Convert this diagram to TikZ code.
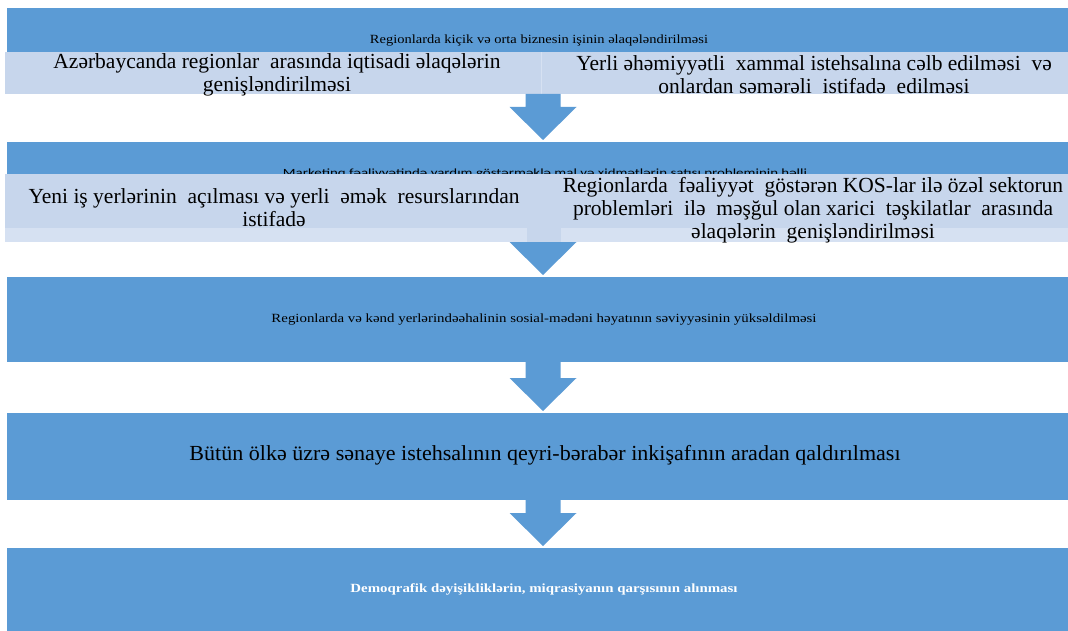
\documentclass[tikz,border=0pt]{standalone}
\usepackage{fontspec}
\setmainfont{Liberation Serif}
\newfontfamily\sansf{Carlito}
\usetikzlibrary{calc}
\definecolor{boxblue}{HTML}{5B9BD5}
\definecolor{cellblue}{HTML}{C7D6EC}
\definecolor{cellpale}{HTML}{D6E1F2}
% squeeze or stretch a line horizontally to a given width
\newcommand\fitw[2]{\resizebox{#1}{\height}{#2}}

\begin{document}
\begin{tikzpicture}[x=1pt,y=-1pt,
  bluebox/.style={fill=boxblue, inner sep=0, outer sep=0, anchor=north west, minimum width=1061pt},
  cellbox/.style={fill=cellblue, inner sep=0, outer sep=0, anchor=north west},
  palebox/.style={fill=cellpale, inner sep=0, outer sep=0, anchor=north west},
  bigtext/.style={font=\fontsize{21.5}{22.8}\selectfont, align=center, inner sep=0},
  smalltext/.style={font=\fontsize{12.5}{13}\selectfont, inner sep=0},
  blockarrow/.style={to path={let \p1=(\tikztostart), \p2=(\tikztotarget) in
     (\x2-17.5pt,\y1) -- (\x2+17.5pt,\y1) -- (\x2+17.5pt,\y2+35pt) -- (\x2+33.5pt,\y2+35pt)
     -- (\x2,\y2+2pt) -- (\x2-33.5pt,\y2+35pt) -- (\x2-17.5pt,\y2+35pt) -- cycle}}
]
\useasboundingbox[fill=white] (0,0) rectangle (1068,631);
\coordinate (ax) at (543,0);

% ---- block 1
\node[bluebox, minimum height=86pt] (b1) at (7,8) {};
\node[smalltext, anchor=base] (t1) at (539,44) {\fitw{338pt}{Regionlarda kiçik və orta biznesin işinin əlaqələndirilməsi}};
\node[palebox, minimum width=1063pt, minimum height=42pt] (band1) at (5,52) {};
\node[cellbox, minimum width=535.5pt, minimum height=42pt] (c1l) at (5,52) {};
\node[cellbox, minimum width=526pt, minimum height=42pt] (c1r) at (542,52) {};
\node[bigtext] (t1l) at (277,75) {Azərbaycanda regionlar\ \ arasında iqtisadi əlaqələrin\\genişləndirilməsi};
\node[bigtext] (t1r) at (814,75) {Yerli əhəmiyyətli\ \ xammal istehsalına cəlb edilməsi\ \ və\\onlardan səmərəli\ \ istifadə\ \ edilməsi};

% ---- block 2
\node[bluebox, minimum height=100pt] (b2) at (7,142) {};
\node[font=\sansf\fontsize{11}{12}\selectfont, inner sep=0, anchor=base] (t2) at (545,176.5)
  {\fitw{524pt}{Marketinq fəaliyyətində yardım göstərməklə mal və xidmətlərin satışı probleminin həlli}};
\node[cellbox, minimum width=1063pt, minimum height=68pt] (band2) at (5,174) {};
\node[palebox, minimum width=522pt, minimum height=14pt] (p2l) at (5,228) {};
\node[palebox, minimum width=507pt, minimum height=14pt] (p2r) at (561,228) {};
\node[bigtext] (t2l) at (274,208) {Yeni iş yerlərinin\ \ açılması və yerli\ \ əmək\ \ resurslarından\\istifadə};
\node[bigtext] (t2r) at (813,210) {Regionlarda\ \ fəaliyyət\ \ göstərən KOS-lar ilə özəl sektorun\\problemləri\ \ ilə\ \ məşğul olan xarici\ \ təşkilatlar\ \ arasında\\əlaqələrin\ \ genişləndirilməsi};

% ---- block 3
\node[bluebox, minimum height=85pt] (b3) at (7,277) {};
\node[smalltext] (t3) at (544,320) {\fitw{545pt}{Regionlarda və kənd yerlərindəəhalinin sosial-mədəni həyatının səviyyəsinin yüksəldilməsi}};

% ---- block 4
\node[bluebox, minimum height=87pt] (b4) at (7,413) {};
\node[bigtext] (t4) at (545,455) {\fitw{711pt}{Bütün ölkə üzrə sənaye istehsalının qeyri-bərabər inkişafının aradan qaldırılması}};

% ---- block 5
\node[bluebox, minimum height=83pt] (b5) at (7,548) {};
\node[smalltext, text=white, font=\fontsize{12.5}{13}\selectfont\bfseries] (t5) at (544,589) {\fitw{387pt}{Demoqrafik dəyişikliklərin, miqrasiyanın qarşısının alınması}};

% ---- block arrows between the stages
\path[fill=boxblue] (band1.south -| ax) to[blockarrow] (b2.north -| ax);
\path[fill=boxblue] (band2.south -| ax) to[blockarrow] (b3.north -| ax);
\path[fill=boxblue] (b3.south -| ax) to[blockarrow] (b4.north -| ax);
\path[fill=boxblue] (b4.south -| ax) to[blockarrow] (b5.north -| ax);
\end{tikzpicture}
\end{document}
